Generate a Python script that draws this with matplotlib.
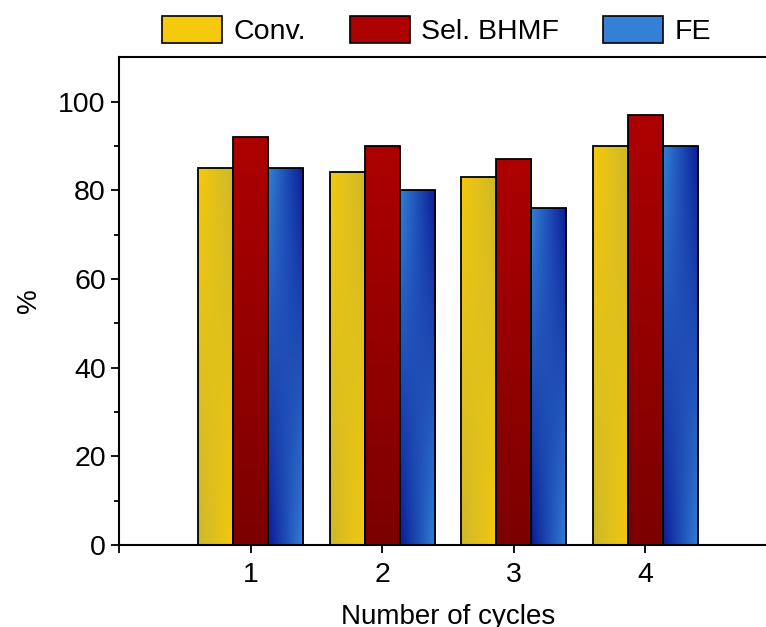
import numpy as np
import matplotlib.pyplot as plt
from matplotlib.patches import Patch
from matplotlib.colors import to_rgb

cycles = [1, 2, 3, 4]
conv = [85, 84, 83, 90]
sel_bhmf = [92, 90, 87, 97]
fe = [85, 80, 76, 90]
series_names = ['Conv.', 'Sel. BHMF', 'FE']

plt.rcParams['font.family'] = ['Liberation Sans', 'DejaVu Sans']
plt.rcParams['font.size'] = 20

fig = plt.figure(figsize=(7.66, 6.27), dpi=100)
ax = fig.add_axes([0.1553, 0.1308, 0.859, 0.778])

# (bright, dark) for gradients
yellow = (to_rgb('#f5c90c'), to_rgb('#cdb82a'))
red = (to_rgb('#ad0000'), to_rgb('#7c0000'))
blue = (to_rgb('#3380d6'), to_rgb('#0a1c96'))

n = 60
X, Y = np.meshgrid(np.linspace(0, 1, n), np.linspace(0, 1, n))
cross = (X - 0.5) * (Y - 0.5) * 4          # -1..1, flips at mid height
d_cross = (cross + 1) / 2
d_vert = 1 - Y


def gradient(cols, d):
    b = np.array(cols[0]); k = np.array(cols[1])
    return b[None, None, :] * (1 - d[..., None]) + k[None, None, :] * d[..., None]


img_cross_y = gradient(yellow, d_cross)
img_red = gradient(red, d_vert)
img_cross_b = gradient(blue, d_cross)

w = 0.8 / 3
x = np.array(cycles, dtype=float)
for vals, off, img in [(conv, -w, img_cross_y), (sel_bhmf, 0, img_red), (fe, w, img_cross_b)]:
    bars = ax.bar(x + off, vals, width=w, facecolor='none', edgecolor='black', linewidth=1.3, zorder=3)
    for b in bars:
        x0 = b.get_x()
        h = b.get_height()
        im = ax.imshow(img, extent=[x0, x0 + w, 0, h], origin='lower', aspect='auto', zorder=2)
        im.set_clip_path(b)

ax.set_xlim(0, 5)
ax.set_ylim(0, 110)
ax.set_xticks([0, 1, 2, 3, 4, 5])
ax.set_xticklabels(['', '1', '2', '3', '4', ''])
ax.set_yticks([0, 20, 40, 60, 80, 100])
ax.set_yticks(np.arange(10, 110, 20), minor=True)
ax.tick_params(axis='both', which='major', direction='out', length=6, width=1.3, labelsize=20.5)
ax.tick_params(axis='x', which='major', pad=6)
ax.tick_params(axis='y', which='minor', direction='out', length=3.5, width=1.3)
for s in ax.spines.values():
    s.set_linewidth(1.5)

ax.set_xlabel('Number of cycles', fontsize=20, labelpad=12)
ax.set_ylabel('%', fontsize=20, labelpad=12)

handles = [Patch(facecolor=yellow[0], edgecolor='black', linewidth=1.2),
           Patch(facecolor=red[0], edgecolor='black', linewidth=1.2),
           Patch(facecolor=blue[0], edgecolor='black', linewidth=1.2)]
fig.legend(handles, series_names, loc='upper center', bbox_to_anchor=(0.57, 1.015), ncol=3,
           frameon=False, fontsize=20.5, handlelength=2.1, handleheight=1.05,
           handletextpad=0.4, columnspacing=1.55)

fig.savefig('out.png', dpi=100)
